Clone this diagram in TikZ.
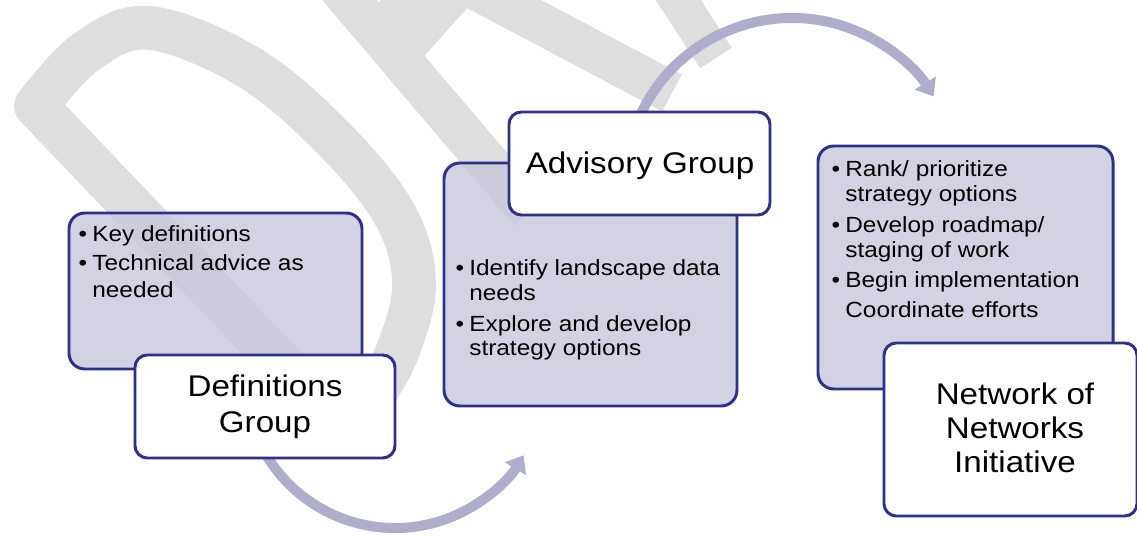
\documentclass[tikz,border=0pt]{standalone}
\usepackage{fontspec}
\setmainfont{Liberation Sans}[FakeStretch=1.11]
\usetikzlibrary{arrows.meta,fit}
\definecolor{navy}{RGB}{45,48,140}
\definecolor{lav}{RGB}{199,199,219}
\definecolor{arrowc}{RGB}{174,174,204}
\definecolor{wmgray}{RGB}{222,222,222}
\newcommand{\bul}{\llap{\textbullet\hspace{3pt}}}
\begin{document}
\begin{tikzpicture}[x=0.02cm,y=-0.02cm,
  wm/.style={draw=wmgray, line join=round},
  flowarrow/.style={draw=arrowc, line width=5.7pt, -{Triangle[width=13.6pt,length=9pt]}},
  contentbox/.style={draw=navy, line width=1.7pt, fill=lav, fill opacity=0.8, rounded corners=9pt, inner sep=0pt},
  titlebox/.style={draw=navy, line width=1.7pt, fill=white, rounded corners=7pt, inner sep=0pt},
  bodyline/.style={anchor=base west, inner sep=0pt, font=\fontsize{12.5pt}{15pt}\selectfont},
  titleline/.style={anchor=base, inner sep=0pt, font=\fontsize{17pt}{20pt}\selectfont},
]
\useasboundingbox (0,0) rectangle (1137,536);

% watermark
\draw[wm, line width=24.9pt] (345,430) -- (36,106) -- plot[smooth, tension=0.6] coordinates {(36,106) (86,52) (150,28) (250,68) (335,140) (395,215) (414,283) (398,350) (370,400) (345,430)} -- cycle;
\draw[wm, line width=23.8pt] (290,-70) -- (530,212);
\draw[wm, line width=39.7pt] (381,52) -- (468,-45);
\draw[wm, line width=23.8pt] (440,-30) -- (672,93);
\draw[wm, line width=21.5pt] (656,-34) -- (716,58);

% arrows
\coordinate (a1s) at ({395+150*cos(155)},{378+150*sin(155)});
\coordinate (a2s) at ({792+167*cos(205)},{185+167*sin(205)});
\draw[flowarrow] (a1s) arc[start angle=155, end angle=31, radius=150];
\draw[flowarrow] (a2s) arc[start angle=205, end angle=328, radius=167];

% boxes
\node[contentbox, fit={(69,213) (362,369)}] (defbody) {};
\node[contentbox, fit={(444,163) (737,406)}] (advbody) {};
\node[contentbox, fit={(818,146) (1113,389)}] (netbody) {};
\node[titlebox, fit={(135,355) (395,458)}] (deftitle) {};
\node[titlebox, fit={(509,112) (770,215)}] (advtitle) {};
\node[titlebox, fit={(884,343) (1137,516)}] (nettitle) {};

% body text
\node[bodyline] (d1) at (92,242) {\bul Key definitions};
\node[bodyline] (d2) at (92,271) {\bul Technical advice as};
\node[bodyline] (d3) at (92,298) {needed};

\node[bodyline] (v1) at (469,276) {\bul Identify landscape data};
\node[bodyline] (v2) at (469,301) {needs};
\node[bodyline] (v3) at (469,332) {\bul Explore and develop};
\node[bodyline] (v4) at (469,356) {strategy options};

\node[bodyline] (n1) at (845,177) {\bul Rank/ prioritize};
\node[bodyline] (n2) at (845,202) {strategy options};
\node[bodyline] (n3) at (845,233) {\bul Develop roadmap/};
\node[bodyline] (n4) at (845,258) {staging of work};
\node[bodyline] (n5) at (845,288) {\bul Begin implementation};
\node[bodyline] (n6) at (845,318) {Coordinate efforts};

% titles
\node[titleline] (t1a) at (265,397) {Definitions};
\node[titleline] (t1b) at (265,433) {Group};
\node[titleline] (t2) at (640,174) {Advisory Group};
\node[titleline] (t3a) at (1015,405) {Network of};
\node[titleline] (t3b) at (1015,439) {Networks};
\node[titleline] (t3c) at (1015,473) {Initiative};
\end{tikzpicture}
\end{document}
